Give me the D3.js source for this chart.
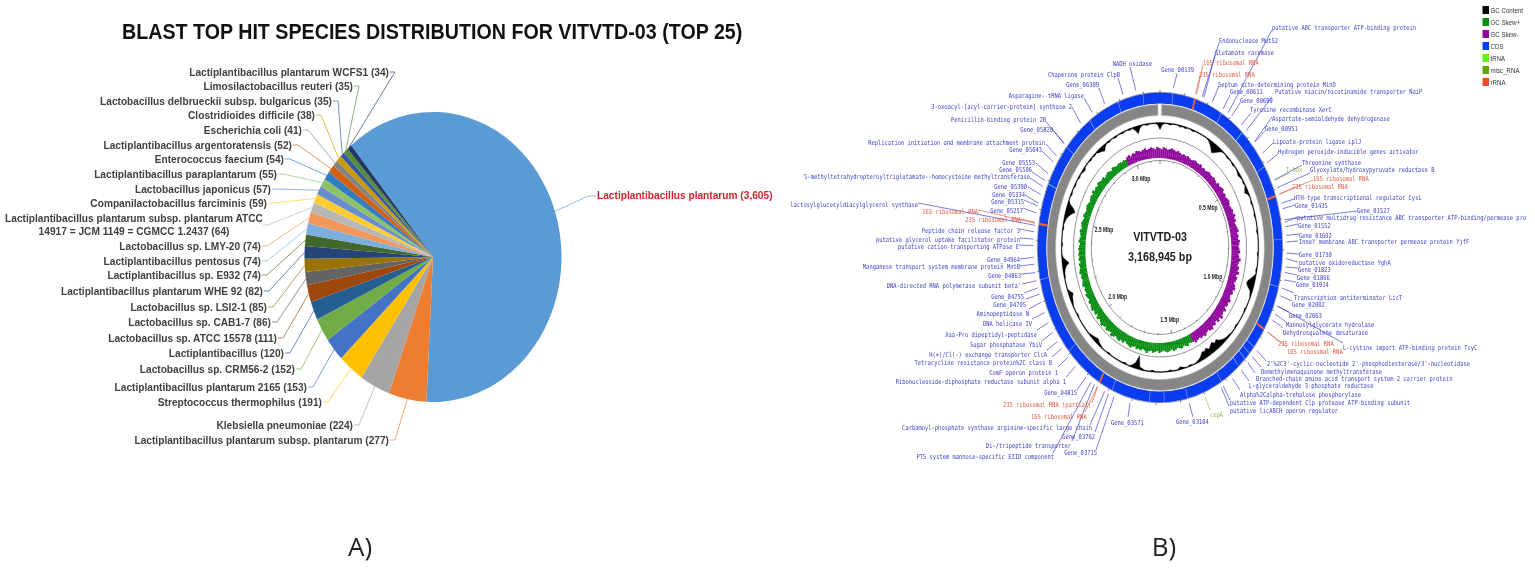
<!DOCTYPE html>
<html>
<head>
    <meta charset="utf-8">
    <title>VITVTD-03</title>
    <style>
        body { margin: 0; background: #fff; }
        svg { display: block; filter: blur(0.35px); }
        .title { font: bold 22.2px "Liberation Sans", sans-serif; fill: #111; }
        .panel { font: 26px "Open Sans", sans-serif; fill: #222; text-anchor: middle; }
        .species { font: bold 11.47px "Liberation Sans", sans-serif; fill: #404040; }
        .gene { font: 6.9px "DejaVu Sans Mono", monospace; dominant-baseline: central; }
        .mbp { font: bold 6.4px "Liberation Sans", sans-serif; fill: #222; text-anchor: middle; dominant-baseline: central; }
        .centre { font: bold 13.6px "Liberation Sans", sans-serif; fill: #222; text-anchor: middle; dominant-baseline: central; }
        .legend { font: 7.8px "Liberation Sans", sans-serif; fill: #333; dominant-baseline: central; }
    </style>
    <script src="https://d3js.org/d3.v7.min.js"></script>
</head>
<body>
<svg id="chart" width="1535" height="568"></svg>

<script>
// panel A: species hits, clockwise from the big slice
var speciesNames = [
    "Lactiplantibacillus plantarum",
    "Lactiplantibacillus plantarum subsp. plantarum",
    "Klebsiella pneumoniae",
    "Streptococcus thermophilus",
    "Lactiplantibacillus plantarum 2165",
    "Lactobacillus sp. CRM56-2",
    "Lactiplantibacillus",
    "Lactobacillus sp. ATCC 15578",
    "Lactobacillus sp. CAB1-7",
    "Lactobacillus sp. LSI2-1",
    "Lactiplantibacillus plantarum WHE 92",
    "Lactiplantibacillus sp. E932",
    "Lactiplantibacillus pentosus",
    "Lactobacillus sp. LMY-20",
    "Lactiplantibacillus plantarum subsp. plantarum ATCC|14917 = JCM 1149 = CGMCC 1.2437",
    "Companilactobacillus farciminis",
    "Lactobacillus japonicus",
    "Lactiplantibacillus paraplantarum",
    "Enterococcus faecium",
    "Lactiplantibacillus argentoratensis",
    "Escherichia coli",
    "Clostridioides difficile",
    "Lactobacillus delbrueckii subsp. bulgaricus",
    "Limosilactobacillus reuteri",
    "Lactiplantibacillus plantarum WCFS1"
];
var speciesCounts = [3605, 277, 224, 191, 153, 152, 120, 111, 86, 85, 82, 74, 74, 74, 64, 59, 57, 55, 54, 52, 41, 38, 35, 35, 34];
var speciesColors = ["#5b9bd5", "#ed7d31", "#a5a5a5", "#ffc000", "#4472c4", "#70ad47", "#255e91", "#9e480e", "#636363", "#997300",
    "#264478", "#43682b", "#7cafdd", "#f1975a", "#b7b7b7", "#ffcd33", "#698ed0", "#8cc168", "#327dc2", "#d26012",
    "#848484", "#cc9a00", "#335aa1", "#5a8a39", "#1f3864"];
// right edge and y of each species label
var speciesLabelX = [597, 389, 353, 322, 307, 295, 284, 277, 271, 267, 263, 261, 261, 261, 262, 267, 271, 277, 284, 292, 302, 315, 332, 353, 389];
var speciesLabelY = [195, 440, 425, 402, 387, 369, 353, 338, 322, 307, 291, 275, 261, 246, 218, 203, 189, 174, 159, 145, 130, 115, 101, 86, 72];

// panel B: genome map
var genomeLength = 3168945;
var mbpTicks = [0.5, 1.0, 1.5, 2.0, 2.5, 3.0];
var legendNames = ["GC Content", "GC Skew+", "GC Skew-", "CDS", "tRNA", "misc_RNA", "rRNA"];
var legendColors = ["#000000", "#0a8f14", "#8f0a9c", "#0a3cf0", "#66ee22", "#66a500", "#f04a30"];
// one value every 1.5 degrees, from 0 bp
var gcContent = [
    7, 2, 1, 1, 2, 1, 1, 1, 2, 1, 2, 1, 1, 2, 1, 1, 1, 1, 1, 1,
    2, 4, 7, 10, 8, 5, 2, 1, 1, 2, 1, 1, 2, 1, 1, 2, 3, 2, 1, 2,
    1, 3, 5, 2, 1, 1, 2, 1, 1, 1, 2, 1, 1, 1, 1, 2, 1, 1, 1, 1,
    1, 1, 2, 1, 1, 1, 1, 2, 1, 3, 6, 9, 10, 7, 3, 2, 1, 1, 1, 1,
    2, 1, 1, 1, 1, 1, 2, 1, 1, 1, 2, 2, 3, 4, 6, 9, 7, 10, 8, 6,
    9, 7, 8, 5, 3, 2, 1, 1, 2, 1, 1, 2, 3, 1, 1, 1, 2, 1, 1, 1,
    1, 1, 1, 2, 1, 1, 1, 2, 3, 14, 6, 3, 1, 1, 2, 1, 1, 1, 1, 1,
    1, 2, 1, 1, 1, 2, 3, 5, 4, 3, 2, 1, 1, 1, 1, 1, 1, 1, 2, 1,
    1, 1, 2, 3, 4, 6, 3, 1, 1, 1, 1, 2, 2, 3, 5, 9, 5, 2, 1, 1,
    1, 2, 1, 1, 1, 1, 2, 1, 2, 3, 5, 8, 12, 9, 3, 1, 1, 2, 1, 1,
    2, 1, 1, 2, 1, 2, 3, 1, 1, 1, 2, 1, 2, 1, 3, 4, 6, 3, 1, 2,
    1, 1, 2, 1, 1, 2, 1, 1, 2, 1, 4, 8, 3, 1, 1, 2, 1, 1, 1, 2];
var gcSkew = [
    -10, -9, -11, -10, -9, -10, -11, -10, -9, -10, -9, -8, -9, -8, -9, -8, -7, -8, -9, -8,
    -8, -9, -7, -8, -7, -8, -9, -8, -8, -9, -8, -7, -9, -8, -9, -10, -8, -9, -8, -9,
    -10, -9, -8, -9, -10, -9, -11, -9, -10, -8, -9, -10, -11, -9, -10, -9, -11, -10, -9, -10,
    -11, -9, -10, -12, -10, -9, -11, -10, -12, -9, -11, -10, -9, -11, -12, -10, -11, -9, -10, -12,
    -10, -11, -9, -12, -10, -11, -13, -10, -12, -9, -11, -10, -12, -11, -9, -10, -12, -10, -11, -9,
    -10, -11, -9, 9, 8, 10, 9, 8, 10, 9, 8, 9, 10, 8, 9, 10, 9, 8, 9, 10,
    8, 9, 10, 8, 9, 11, 9, 8, 10, 9, 10, 8, 9, 11, 10, 9, 8, 10, 9, 11,
    10, 9, 11, 12, 9, 10, 11, 9, 10, 12, 10, 9, 11, 8, 10, 9, 11, 10, 9, 10,
    8, 9, 10, 8, 9, 8, 10, 9, 8, 9, 8, 10, 9, 8, 9, 7, 9, 8, 9, 8,
    9, 8, 7, 9, 8, 7, 8, 9, 7, 8, 9, 8, 7, 9, 8, 7, 8, 9, 8, 7,
    8, 9, 8, 10, 8, 9, 8, 10, 9, 8, 9, 7, 8, 9, 8, 7, 9, 8, 7, 8,
    8, 7, 8, 7, -9, -10, -8, -10, -9, -11, -10, -9, -10, -11, -9, -10, -11, -10, -9, -11];
var cdsBreaks = [0.053, 0.264, 0.515, 0.766, 0.922, 1.144, 1.171, 1.197, 1.232, 1.320, 1.470, 1.567, 1.628, 1.787, 2.007, 2.271, 2.733, 2.861, 2.993, 3.098];
var rrnaSites = [0.146, 0.621, 1.072, 1.845, 2.454];
var trnaSites = [0.37, 2.59];

var featureNames = ["Gene_00139", "23S ribosomal RNA", "16S ribosomal RNA", "Glutamate racemase", "Endonuclease MutS2",
    "Septum site-determining protein MinD", "Gene_00611", "putative ABC transporter ATP-binding protein", "Gene_00699", "Tyrosine recombinase XerC",
    "Putative niacin/nicotinamide transporter NaiP", "Aspartate-semialdehyde dehydrogenase", "Gene_00951", "Lipoate-protein ligase LplJ", "Hydrogen peroxide-inducible genes activator",
    "Threonine synthase", "T-box", "Glyoxylate/hydroxypyruvate reductase B", "16S ribosomal RNA", "23S ribosomal RNA",
    "HTH-type transcriptional regulator CysL", "Gene_01435", "Gene_01527", "putative multidrug resistance ABC transporter ATP-binding/permease pro", "Gene_01552",
    "Gene_01602", "Inner membrane ABC transporter permease protein YjfF", "Gene_01730", "putative oxidoreductase YghA", "Gene_01823",
    "Gene_01866", "Gene_01914", "Transcription antiterminator LicT", "Gene_02002", "Gene_02063",
    "L-cystine import ATP-binding protein TcyC", "Mannosylglycerate hydrolase", "Dehydrosqualene desaturase", "23S ribosomal RNA", "16S ribosomal RNA",
    "2'%2C3'-cyclic-nucleotide 2'-phosphodiesterase/3'-nucleotidase", "Demethylmenaquinone methyltransferase", "Branched-chain amino acid transport system 2 carrier protein", "L-glyceraldehyde 3-phosphate reductase", "Alpha%2Calpha-trehalose phosphorylase",
    "putative ATP-dependent Clp protease ATP-binding subunit", "putative licABCH operon regulator", "cspA", "Gene_03104", "Gene_03571",
    "Gene_03715", "Gene_03762", "Carbamoyl-phosphate synthase arginine-specific large chain", "16S ribosomal RNA", "23S ribosomal RNA (partial)",
    "Di-/tripeptide transporter", "PTS system mannose-specific EIID component", "Gene_04815", "Ribonucleoside-diphosphate reductase subunit alpha 1", "ComF operon protein 1",
    "Tetracycline resistance protein%2C class B", "H(+)/Cl(-) exchange transporter ClcA", "Sugar phosphatase YbiV", "Xaa-Pro dipeptidyl-peptidase", "DNA helicase IV",
    "Aminopeptidase N", "Gene_04705", "Gene_04755", "DNA-directed RNA polymerase subunit beta'", "Gene_04863",
    "Manganese transport system membrane protein MntB", "Gene_04964", "putative cation-transporting ATPase E", "putative glycerol uptake facilitator protein", "Peptide chain release factor 3",
    "lactosylglucosyldiacylglycerol synthase", "16S ribosomal RNA", "23S ribosomal RNA", "Gene_05257", "Gene_05315",
    "Gene_05334", "Gene_05390", "5-methyltetrahydropteroyltriglutamate--homocysteine methyltransferase", "Gene_05506", "Gene_05553",
    "Gene_05643", "Replication initiation and membrane attachment protein", "Gene_05820", "Penicillin-binding protein 2B", "3-oxoacyl-[acyl-carrier-protein] synthase 2",
    "Asparagine--tRNA ligase", "Gene_06309", "Chaperone protein ClpB", "NADH oxidase"];
var featureMbp = [0.053, 0.144, 0.148, 0.179, 0.172, 0.215, 0.264, 0.287, 0.305, 0.352,
    0.379, 0.427, 0.429, 0.475, 0.511, 0.572, 0.574, 0.599, 0.621, 0.621,
    0.651, 0.669, 0.704, 0.713, 0.727, 0.754, 0.775, 0.810, 0.827, 0.854,
    0.871, 0.895, 0.922, 0.947, 0.982, 0.981, 1.008, 1.030, 1.072, 1.072,
    1.144, 1.171, 1.197, 1.232, 1.276, 1.320, 1.329, 1.400, 1.467, 1.705,
    1.772, 1.796, 1.813, 1.845, 1.845, 1.860, 1.875, 1.901, 1.954, 1.996,
    2.033, 2.060, 2.095, 2.130, 2.165, 2.201, 2.227, 2.248, 2.271, 2.297,
    2.324, 2.346, 2.383, 2.403, 2.426, 2.447, 2.454, 2.456, 2.486, 2.509,
    2.518, 2.547, 2.573, 2.594, 2.619, 2.662, 2.685, 2.733, 2.735, 2.826,
    2.884, 2.940, 3.019, 3.072];
// the gene labels sit by hand like in the map: anchor, text x, text y, end of the leader next to the text
var featureLayout = [
    ["end", 1194, 69, 1177, 74], ["start", 1199, 74, 1200, 75], ["start", 1203, 62, 1203, 65], ["start", 1215, 52, 1215, 55], ["start", 1219, 40, 1219, 43],
    ["start", 1218, 84, 1219, 86], ["start", 1230, 91, 1230, 95], ["start", 1272, 27, 1272, 30], ["start", 1240, 100, 1240, 103], ["start", 1250, 109, 1251, 113],
    ["start", 1275, 91, 1272, 97], ["start", 1272, 118, 1272, 117], ["start", 1265, 128, 1265, 131], ["start", 1273, 141, 1273, 143], ["start", 1278, 151, 1278, 154],
    ["start", 1302, 162, 1302, 165], ["start", 1286, 169, 1290, 173], ["start", 1310, 169, 1310, 173], ["start", 1313, 178, 1313, 180], ["start", 1292, 186, 1293, 188],
    ["start", 1294, 197, 1294, 199], ["start", 1295, 205, 1295, 205], ["start", 1357, 210, 1357, 211], ["start", 1297, 217, 1297, 217], ["start", 1298, 225, 1298, 224],
    ["start", 1299, 235, 1299, 234], ["start", 1299, 241, 1298, 241], ["start", 1299, 254, 1299, 254], ["start", 1299, 262, 1298, 262], ["start", 1298, 269, 1298, 268],
    ["start", 1297, 277, 1297, 275], ["start", 1296, 284, 1296, 282], ["start", 1294, 297, 1294, 293], ["start", 1292, 304, 1292, 301], ["start", 1289, 315, 1289, 312],
    ["start", 1343, 347, 1343, 343], ["start", 1286, 324, 1286, 322], ["start", 1283, 332, 1283, 328], ["start", 1278, 343, 1278, 341], ["start", 1287, 351, 1287, 347],
    ["start", 1267, 363, 1266, 361], ["start", 1261, 371, 1261, 367], ["start", 1256, 378, 1255, 373], ["start", 1249, 385, 1249, 381], ["start", 1240, 394, 1240, 390],
    ["start", 1230, 402, 1230, 400], ["start", 1230, 410, 1229, 406], ["start", 1210, 414, 1210, 410], ["start", 1176, 421, 1193, 417], ["start", 1111, 422, 1128, 417],
    ["end", 1097, 452, 1096, 450], ["end", 1095, 436, 1095, 432], ["end", 1092, 427, 1090, 425], ["start", 1031, 416, 1085, 412], ["start", 1003, 404, 1092, 403],
    ["end", 1071, 445, 1072, 441], ["end", 1054, 456, 1053, 453], ["end", 1077, 392, 1077, 390], ["end", 1066, 381, 1066, 377], ["end", 1058, 372, 1058, 367],
    ["end", 1052, 362, 1052, 357], ["end", 1047, 354, 1047, 350], ["end", 1042, 344, 1042, 341], ["end", 1037, 334, 1037, 330], ["end", 1032, 323, 1032, 319],
    ["end", 1029, 313, 1029, 309], ["end", 1026, 304, 1026, 299], ["end", 1024, 296, 1024, 293], ["end", 1021, 285, 1022, 284], ["end", 1021, 275, 1021, 274],
    ["end", 1020, 266, 1020, 266], ["end", 1020, 259, 1020, 259], ["end", 1019, 246, 1019, 245], ["end", 1020, 239, 1020, 238], ["end", 1020, 230, 1020, 229],
    ["end", 918, 204, 918, 203], ["end", 978, 211, 978, 210], ["end", 1021, 219, 1021, 219], ["end", 1023, 210, 1023, 208], ["end", 1024, 201, 1024, 200],
    ["end", 1025, 194, 1025, 195], ["end", 1027, 186, 1028, 187], ["end", 1030, 176, 1030, 178], ["end", 1032, 169, 1032, 172], ["end", 1035, 162, 1036, 163],
    ["end", 1042, 149, 1042, 151], ["end", 1045, 142, 1046, 144], ["end", 1053, 129, 1053, 130], ["end", 1046, 119, 1046, 122], ["end", 1072, 106, 1072, 107],
    ["end", 1084, 95, 1084, 98], ["end", 1099, 84, 1099, 88], ["end", 1120, 74, 1118, 78], ["end", 1152, 63, 1130, 67]
];

var svg = d3.select("#chart");

// ---------- titles ----------
var pieSqueeze = 128.5 / 145;
svg.append("text").attr("class", "title")
    .attr("transform", "translate(122,39) scale(" + pieSqueeze + ",1)")
    .text("BLAST TOP HIT SPECIES DISTRIBUTION FOR VITVTD-03 (TOP 25)");
svg.append("text").attr("class", "panel").attr("x", 360).attr("y", 556).text("A)");
svg.append("text").attr("class", "panel").attr("x", 1164).attr("y", 556).text("B)");

// ---------- panel A ----------
var pieCx = 433, pieCy = 257, pieRy = 145;
var pieStart = -39.6 * Math.PI / 180;
var pie = d3.pie().sort(null).startAngle(pieStart).endAngle(pieStart + 2 * Math.PI);
var slices = pie(speciesCounts);
var arc = d3.arc().innerRadius(0).outerRadius(pieRy);

svg.append("g")
    .attr("transform", "translate(" + pieCx + "," + pieCy + ") scale(" + pieSqueeze + ",1)")
    .selectAll("path")
    .data(slices)
    .enter().append("path")
    .attr("d", arc)
    .attr("fill", function(d, i) { return speciesColors[i]; });

function pieEdge(d) {
    var a = (d.startAngle + d.endAngle) / 2;
    return [pieCx + Math.sin(a) * pieRy * pieSqueeze, pieCy - Math.cos(a) * pieRy];
}

svg.append("g").selectAll("path")
    .data(slices)
    .enter().append("path")
    .attr("fill", "none")
    .attr("stroke", function(d, i) { return speciesColors[i]; })
    .attr("stroke-width", 0.9)
    .attr("opacity", 0.75)
    .attr("d", function(d, i) {
        var e = pieEdge(d);
        if (i == 0) return d3.line()([[596, 196], [588, 196], e]);
        var y = speciesLabelY[i];
        if (speciesNames[i].indexOf("|") >= 0) y = y + 7;
        return d3.line()([[speciesLabelX[i] + 1, y], [speciesLabelX[i] + 6, y], e]);
    });

var speciesLabels = svg.append("g").selectAll("text")
    .data(speciesNames)
    .enter().append("text")
    .attr("class", "species")
    .attr("text-anchor", function(d, i) { return i == 0 ? "start" : "end"; })
    .attr("transform", function(d, i) {
        var x = speciesLabelX[i];
        if (d.indexOf("|") >= 0) x = 134;
        return "translate(" + x + "," + (speciesLabelY[i] + 4) + ") scale(" + pieSqueeze + ",1)";
    })
    .style("fill", function(d, i) { return i == 0 ? "#d3222c" : null; });

speciesLabels.each(function(d, i) {
    var parts = d.split("|");
    var countText = " (" + d3.format(",")(speciesCounts[i]) + ")";
    if (parts.length == 1) {
        d3.select(this).text(d + countText);
    } else {
        // two line label is centred
        d3.select(this).attr("text-anchor", "middle");
        d3.select(this).append("tspan").attr("x", 0).text(parts[0]);
        d3.select(this).append("tspan").attr("x", 0).attr("dy", 13.5).text(parts[1] + countText);
    }
});

// ---------- panel B ----------
var mapCx = 1160, mapCy = 247.5, mapSqueeze = 0.79;
var angle = d3.scaleLinear().domain([0, genomeLength / 1e6]).range([0, 2 * Math.PI]);
var binAngle = d3.scaleLinear().domain([0, gcContent.length]).range([0, 2 * Math.PI]);

var map = svg.append("g")
    .attr("transform", "translate(" + mapCx + "," + mapCy + ") scale(" + mapSqueeze + ",1)");

function mapPoint(mbp, r) {
    var a = angle(mbp);
    return [mapCx + Math.sin(a) * r * mapSqueeze, mapCy - Math.cos(a) * r];
}

var cdsRing = d3.arc().innerRadius(144).outerRadius(155);
var skewR = d3.scaleLinear().domain([0, 12]).range([92.5, 104.5]);

// leaders go under the rings
svg.insert("g", "g").selectAll("path")
    .data(featureNames)
    .enter().append("path")
    .attr("fill", "none")
    .attr("stroke-width", 0.8)
    .attr("opacity", 0.85)
    .attr("stroke", function(d, i) { return featureColor(d); })
    .attr("d", function(d, i) {
        var l = featureLayout[i];
        return d3.line()([[l[3], l[4]], mapPoint(featureMbp[i], 160)]);
    });

map.append("path")
    .attr("d", cdsRing({ startAngle: 0, endAngle: 2 * Math.PI }))
    .attr("fill", legendColors[3]);
map.append("circle").attr("r", 155.3).attr("fill", "none").attr("stroke", "#6f7690").attr("stroke-width", 0.8);

function ringMark(mbp, width, color) {
    map.append("path")
        .attr("d", cdsRing({ startAngle: angle(mbp) - width, endAngle: angle(mbp) + width }))
        .attr("fill", color);
}
cdsBreaks.forEach(function(m) { ringMark(m, 0.002, "#a9b9f5"); });
rrnaSites.forEach(function(m) { ringMark(m, 0.007, "#ee6a2c"); });
trnaSites.forEach(function(m) { ringMark(m, 0.004, "#3fc0a0"); });

// grey ring with the small notch at the origin
var grayRing = d3.arc().innerRadius(132).outerRadius(143);
map.append("path")
    .attr("d", grayRing({ startAngle: 0.012, endAngle: 2 * Math.PI - 0.018 }))
    .attr("fill", "#868686")
    .attr("stroke", "#c9c9c9")
    .attr("stroke-width", 0.7);

// outer tick marks
var smallTicks = d3.range(0, genomeLength / 1e6, 0.1);
map.append("g").selectAll("line")
    .data(smallTicks)
    .enter().append("line")
    .attr("x1", function(d) { return Math.sin(angle(d)) * 155; })
    .attr("y1", function(d) { return -Math.cos(angle(d)) * 155; })
    .attr("x2", function(d) { return Math.sin(angle(d)) * 157.5; })
    .attr("y2", function(d) { return -Math.cos(angle(d)) * 157.5; })
    .attr("stroke", "#444")
    .attr("stroke-width", 0.7);

// GC content, spikes pointing at the centre
var gcArea = d3.areaRadial()
    .angle(function(d, i) { return binAngle(i); })
    .innerRadius(function(d) { return 125 - d; })
    .outerRadius(125);
map.append("path")
    .attr("d", gcArea(gcContent.concat([gcContent[0]])))
    .attr("fill", legendColors[0])
    .attr("stroke", legendColors[0])
    .attr("stroke-width", 0.3);

map.append("circle").attr("r", 109.5).attr("fill", "none").attr("stroke", "#555").attr("stroke-width", 0.7);

// GC skew, one wedge for each bin
map.append("g")
    .attr("transform", "translate(-2,3)")
    .selectAll("path")
    .data(gcSkew)
    .enter().append("path")
    .attr("fill", function(d) { return d < 0 ? legendColors[2] : legendColors[1]; })
    .attr("d", function(d, i) {
        return d3.arc()({
            innerRadius: skewR(0),
            outerRadius: skewR(Math.abs(d)),
            startAngle: binAngle(i),
            endAngle: binAngle(i + 1) + 0.002
        });
    });

// scale circle with ticks and Mbp labels
map.append("circle").attr("r", 87).attr("fill", "none").attr("stroke", "#555").attr("stroke-width", 0.7);
map.append("g").selectAll("line")
    .data(smallTicks)
    .enter().append("line")
    .attr("x1", function(d) { return Math.sin(angle(d)) * 87; })
    .attr("y1", function(d) { return -Math.cos(angle(d)) * 87; })
    .attr("x2", function(d, i) { return Math.sin(angle(d)) * (i % 5 == 0 ? 83 : 85.5); })
    .attr("y2", function(d, i) { return -Math.cos(angle(d)) * (i % 5 == 0 ? 83 : 85.5); })
    .attr("stroke", "#444")
    .attr("stroke-width", 0.7);

svg.append("g").selectAll("text")
    .data(mbpTicks)
    .enter().append("text")
    .attr("class", "mbp")
    .attr("transform", function(d) {
        var p = mapPoint(d, 73);
        return "translate(" + p[0] + "," + p[1] + ") scale(" + mapSqueeze + ",1)";
    })
    .text(function(d) { return d.toFixed(1) + " Mbp"; });

svg.append("text").attr("class", "centre")
    .attr("transform", "translate(" + mapCx + ",237) scale(" + mapSqueeze + ",1)")
    .text("VITVTD-03");
svg.append("text").attr("class", "centre")
    .attr("transform", "translate(" + mapCx + ",257) scale(" + mapSqueeze + ",1)")
    .text("3,168,945 bp");

function featureColor(name) {
    if (name.indexOf("ribosomal RNA") >= 0) return "#dd5a40";
    if (name == "T-box" || name == "cspA") return "#93b84e";
    return "#3a3fc6";
}

svg.append("g").selectAll("text")
    .data(featureNames)
    .enter().append("text")
    .attr("class", "gene")
    .attr("text-anchor", function(d, i) { return featureLayout[i][0]; })
    .attr("transform", function(d, i) {
        return "translate(" + featureLayout[i][1] + "," + featureLayout[i][2] + ") scale(" + mapSqueeze + ",1)";
    })
    .attr("fill", featureColor)
    .text(function(d) { return d; });

// legend
var legendY = d3.scalePoint().domain(legendNames).range([10, 82]);
var legend = svg.append("g");
legend.selectAll("rect")
    .data(legendNames)
    .enter().append("rect")
    .attr("x", 1482.5)
    .attr("y", function(d) { return legendY(d) - 4; })
    .attr("width", 6.5)
    .attr("height", 8)
    .attr("fill", function(d, i) { return legendColors[i]; });
legend.selectAll("text")
    .data(legendNames)
    .enter().append("text")
    .attr("class", "legend")
    .attr("transform", function(d) { return "translate(1490.5," + legendY(d) + ") scale(" + mapSqueeze + ",1)"; })
    .text(function(d) { return d; });
</script>
</body>
</html>
